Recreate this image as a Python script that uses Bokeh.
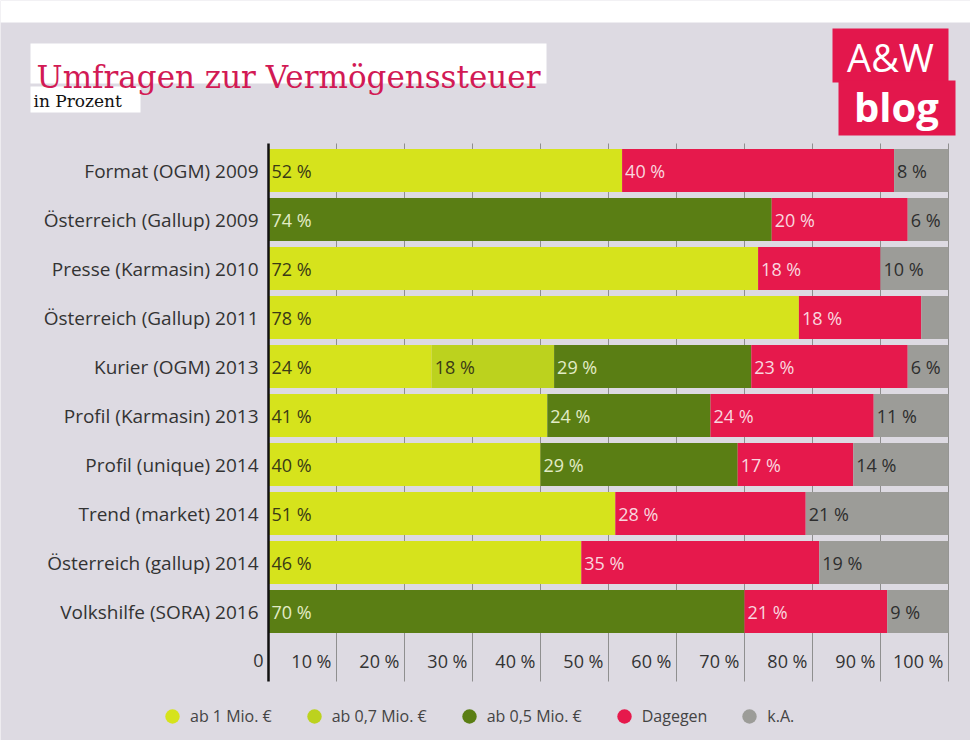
import numpy as np
from bokeh.plotting import figure
from bokeh.models import ColumnDataSource, Range1d, Label, BoxAnnotation, Legend, LegendItem
from bokeh.core.properties import value
from bokeh.embed import file_html
from bokeh.resources import INLINE

# ---------------- data ----------------
categories = ["Format (OGM) 2009", "Österreich (Gallup) 2009", "Presse (Karmasin) 2010",
              "Österreich (Gallup) 2011", "Kurier (OGM) 2013", "Profil (Karmasin) 2013",
              "Profil (unique) 2014", "Trend (market) 2014", "Österreich (gallup) 2014",
              "Volkshilfe (SORA) 2016"]
ab_1_mio = [52, 0, 72, 78, 24, 41, 40, 51, 46, 0]
ab_07_mio = [0, 0, 0, 0, 18, 0, 0, 0, 0, 0]
ab_05_mio = [0, 74, 0, 0, 29, 24, 29, 0, 0, 70]
dagegen = [40, 20, 18, 18, 23, 24, 17, 28, 35, 21]
k_a = [8, 6, 10, 4, 6, 11, 14, 21, 19, 9]
series_names = ["ab 1 Mio. €", "ab 0,7 Mio. €", "ab 0,5 Mio. €", "Dagegen", "k.A."]
x_ticks = [0, 10, 20, 30, 40, 50, 60, 70, 80, 90, 100]
tick_labels = ["0", "10 %", "20 %", "30 %", "40 %", "50 %", "60 %", "70 %", "80 %", "90 %", "100 %"]

title_text = "Umfragen zur Vermögenssteuer"
subtitle_text = "in Prozent"

# ---------------- style ----------------
colors = ["#d6e31c", "#bcd21e", "#5a7e14", "#e6194c", "#9c9c98"]
label_colors = ["#3a3a16", "#3a3a16", "#e2ecc6", "#f9d6df", "#2e2e2e"]
BG = "#dddae2"
FONT = "Open Sans"

W, H = 970, 740
X0, PXU = 268.0, 6.8      # px of 0 %, px per percent
Y0, ROW = 170.0, 49.0     # px of first row centre, px per row


def dx(px):
    return (px - X0) / PXU


def dy(py):
    return (py - Y0) / ROW


p = figure(width=W, height=H, title=None,
           x_range=Range1d(-X0 / PXU, (W - X0) / PXU),
           y_range=Range1d((H - Y0) / ROW, -Y0 / ROW),
           x_axis_location=None, y_axis_location=None,
           output_backend="svg", toolbar_location=None, min_border=0,
           background_fill_color=BG, border_fill_color=BG, outline_line_color=None)
p.grid.visible = False

n = len(categories)
rows = list(range(n))

# grid separators (behind bars)
p.segment(x0=x_ticks[1:], y0=dy(143), x1=x_ticks[1:], y1=dy(681),
          line_color="#8f8f8f", line_width=1)

stack_keys = ["ab1", "ab07", "ab05", "dag", "ka"]
series = [ab_1_mio, ab_07_mio, ab_05_mio, dagegen, k_a]
src = ColumnDataSource(dict(y=rows, **{k: v for k, v in zip(stack_keys, series)}))
p.hbar_stack(stack_keys, y="y", height=0.88, color=colors, line_color=None, source=src)

# value labels
lx, ly, lt, lc = [], [], [], []
for i in rows:
    left = 0
    for s, col in zip(series, label_colors):
        v = s[i]
        if v >= 5:
            lx.append(left)
            ly.append(i)
            lt.append(f"{v} %")
            lc.append(col)
        left += v
p.text(x=lx, y=ly, text=lt, text_color=lc, x_offset=3, text_align="left",
       text_baseline="middle", text_font=value(FONT), text_font_size="18px")

# axis line
p.segment(x0=[0], y0=[dy(143)], x1=[0], y1=[dy(681)], line_color="#111111", line_width=2.5)

# category labels
p.text(x=[0] * n, y=rows, text=categories, x_offset=-10, text_align="right",
       text_baseline="middle", text_font=value(FONT), text_font_size="19px",
       text_color="#333333")

# tick labels
p.text(x=x_ticks, y=[n] * len(x_ticks), text=tick_labels, x_offset=-5, text_align="right",
       text_baseline="middle", text_font=value(FONT), text_font_size="18px",
       text_color="#333333")

# white strip at top
p.add_layout(BoxAnnotation(top=dy(0), bottom=dy(22), fill_color="white", fill_alpha=1,
                           line_color=None))

# title boxes
p.add_layout(BoxAnnotation(left=dx(30), right=dx(546), top=dy(43), bottom=dy(83),
                           fill_color="white", fill_alpha=1, line_color=None))
p.add_layout(BoxAnnotation(left=dx(30), right=dx(140), top=dy(86), bottom=dy(112),
                           fill_color="white", fill_alpha=1, line_color=None))
p.add_layout(Label(x=dx(36), y=dy(76), text=title_text, text_font="DejaVu Serif",
                   text_font_size="31px", text_color="#d21a55", text_align="left",
                   text_baseline="alphabetic"))
p.add_layout(Label(x=dx(33), y=dy(100), text=subtitle_text, text_font="DejaVu Serif",
                   text_font_size="17px", text_color="#111111", text_align="left",
                   text_baseline="middle"))

# logo
p.add_layout(BoxAnnotation(left=dx(832), right=dx(948), top=dy(28), bottom=dy(82),
                           fill_color="#e3174c", fill_alpha=1, line_color=None))
p.add_layout(BoxAnnotation(left=dx(838), right=dx(955), top=dy(80), bottom=dy(135),
                           fill_color="#e3174c", fill_alpha=1, line_color=None))
p.add_layout(Label(x=dx(890), y=dy(56), text="A&W", text_font="Open Sans",
                   text_font_size="38px", text_color="white", text_align="center",
                   text_baseline="middle"))
p.add_layout(Label(x=dx(896), y=dy(106), text="blog", text_font="Open Sans",
                   text_font_style="bold", text_font_size="40px", text_color="white",
                   text_align="center", text_baseline="middle"))

# legend
leg_r = [p.scatter(x=[np.nan], y=[np.nan], marker="circle", size=14, fill_color=c,
                   line_color=None) for c in colors]
legend = Legend(items=[LegendItem(label=value(nm), renderers=[r]) for nm, r in zip(series_names, leg_r)],
                orientation="horizontal", location=(154, 6), glyph_width=36, glyph_height=36,
                label_standoff=0, spacing=24, padding=0, margin=0,
                background_fill_alpha=0, border_line_color=None,
                label_text_font=FONT, label_text_font_size="16px", label_text_color="#444444")
p.add_layout(legend)

open("out.html", "w").write(file_html(p, INLINE))
